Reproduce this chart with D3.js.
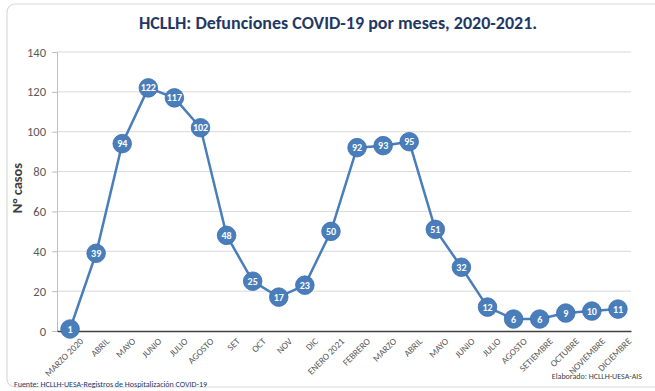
<!DOCTYPE html>
<html><head><meta charset="utf-8">
<script src="https://cdn.jsdelivr.net/npm/d3@7"></script>
<style>body{margin:0;background:#fff}svg{display:block;font-family:Calibri,Carlito,"Liberation Sans","Open Sans",sans-serif}</style>
</head><body>
<script>
const months = ["MARZO 2020","ABRIL","MAYO","JUNIO","JULIO","AGOSTO","SET","OCT","NOV","DIC","ENERO 2021","FEBRERO","MARZO","ABRIL","MAYO","JUNIO","JULIO","AGOSTO","SETIEMBRE","OCTUBRE","NOVIEMBRE","DICIEMBRE"];
const deaths = [1,39,94,122,117,102,48,25,17,23,50,92,93,95,51,32,12,6,6,9,10,11];
const yTicks = [0,20,40,60,80,100,120,140];
const titleText = "HCLLH: Defunciones COVID-19 por meses, 2020-2021.";
const yLabel = "N° casos";
const sourceText = "Fuente: HCLLH-UESA-Registros de Hospitalización COVID-19";
const authorText = "Elaborado: HCLLH-UESA-AIS";

const W = 655, H = 391;
const svg = d3.select("body").append("svg").attr("width", W).attr("height", H);
svg.append("rect").attr("x",7).attr("y",4).attr("width",W+10).attr("height",H-8).attr("rx",8)
  .attr("fill","#fff").attr("stroke","#d9d9d9").attr("stroke-width",1.2);

const x = d3.scaleBand().domain(d3.range(months.length)).range([57,631]);
const y = d3.scaleLinear().domain([0,140]).range([331,52]);

svg.append("text").attr("x",338).attr("y",29).attr("text-anchor","middle")
  .attr("font-size",18).attr("font-weight","bold").attr("fill","#1f3864").text(titleText);

// gridlines
svg.append("g").selectAll("line").data(yTicks.filter(d=>d>0)).join("line")
  .attr("x1",57).attr("x2",631).attr("y1",d=>y(d)).attr("y2",d=>y(d))
  .attr("stroke","#d9d9d9").attr("stroke-width",1);

const ya = svg.append("g").attr("transform","translate(57,0)")
  .call(d3.axisLeft(y).tickValues(yTicks).tickSize(5).tickPadding(6));
ya.select(".domain").attr("stroke","#bfbfbf");
ya.selectAll(".tick line").attr("stroke","#bfbfbf");
ya.selectAll("text").attr("font-size",12.5).attr("fill","#595959").attr("font-family","Calibri,Carlito,'Liberation Sans',sans-serif");

const xa = svg.append("g").attr("transform","translate(0,331)")
  .call(d3.axisBottom(x).tickFormat(i=>months[i]).tickSize(0).tickPadding(7));
xa.select(".domain").attr("stroke","#404040").attr("stroke-width",1.5);
xa.selectAll("text").attr("font-size",9.3).attr("fill","#595959")
  .attr("font-family","Calibri,Carlito,'Liberation Sans',sans-serif")
  .attr("text-anchor","end").attr("transform","translate(5,2) rotate(-45)").attr("dy","0.6em");

svg.append("text").attr("transform","translate(22,188) rotate(-90)").attr("text-anchor","middle")
  .attr("font-size",14.5).attr("font-weight","bold").attr("fill","#404040").text(yLabel);

const cx = i => x(i) + x.bandwidth()/2;
svg.append("path").datum(deaths)
  .attr("d", d3.line().x((d,i)=>cx(i)).y(d=>y(d)))
  .attr("fill","none").attr("stroke","#4a7ebb").attr("stroke-width",2.5);

const pts = svg.append("g").selectAll("g").data(deaths).join("g")
  .attr("transform",(d,i)=>`translate(${cx(i)},${y(d)})`);
pts.append("circle").attr("r",9.3).attr("fill","#4a7ebb").attr("stroke","#3d6fae").attr("stroke-width",0.8);
pts.append("text").attr("text-anchor","middle").attr("dy","0.35em")
  .attr("font-size",10).attr("font-weight","bold").attr("fill","#fff").text(d=>d);

svg.append("text").attr("x",14).attr("y",387).attr("font-size",8).attr("fill","#1f3864").text(sourceText);
svg.append("text").attr("x",642).attr("y",379).attr("text-anchor","end").attr("font-size",8).attr("fill","#404040").text(authorText);
</script>
</body></html>
